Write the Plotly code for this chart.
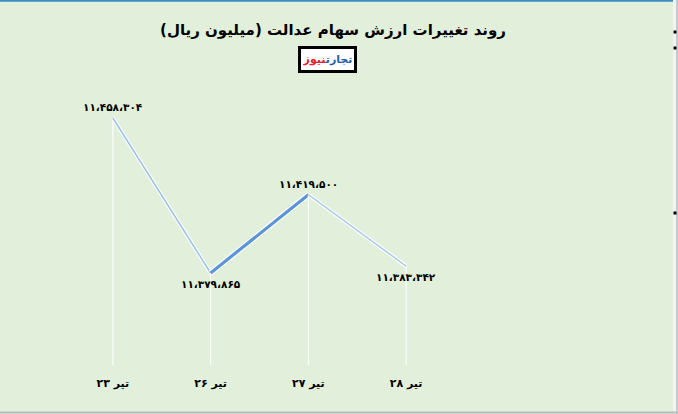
import plotly.graph_objects as go

categories = ["۲۳ تیر", "۲۶ تیر", "۲۷ تیر", "۲۸ تیر"]
values = [11458304, 11379865, 11419500, 11383342]
title_text = "روند تغییرات ارزش سهام عدالت (میلیون ریال)"

FA = str.maketrans("0123456789,", "۰۱۲۳۴۵۶۷۸۹،")
def fa(n):
    return f"{n:,}".translate(FA)

W, H = 678, 414
L, R, T, B = 64, 223, 100, 49
PW, PH = W - L - R, H - T - B
y_lo, y_hi = 11333300, 11467400

def px(x):
    return (x - L) / PW
def py(y):
    return (H - B - y) / PH

xs = list(range(len(categories)))
bg = "#E2EFDA"
fig = go.Figure()

# drop lines
for i, v in zip(xs, values):
    fig.add_trace(go.Scatter(x=[i, i], y=[v, y_lo], mode="lines",
                             line=dict(color="rgba(255,255,255,0.85)", width=1.2),
                             hoverinfo="skip", showlegend=False))

# line segments (3D-like look)
seg_styles = [("#9DC3E6", 1.6), ("#5B95D8", 3.2), ("#AECBEA", 1.6)]
for k, (c, w) in enumerate(seg_styles):
    xx = [xs[k], xs[k + 1]]
    yy = [values[k], values[k + 1]]
    fig.add_trace(go.Scatter(x=xx, y=yy, mode="lines",
                             line=dict(color="white", width=w + 2.2),
                             hoverinfo="skip", showlegend=False))
    fig.add_trace(go.Scatter(x=xx, y=yy, mode="lines",
                             line=dict(color=c, width=w),
                             hoverinfo="skip", showlegend=False))

annotations = []
shifts = [11, -11, 11, -11]
for i, v, s in zip(xs, values, shifts):
    annotations.append(dict(x=i, y=v, xref="x", yref="y", text=f"<b>{fa(v)}</b>",
                            showarrow=False, yshift=s, xanchor="center", yanchor="middle",
                            font=dict(family="DejaVu Sans", size=10.5, color="black")))

shapes = [
    dict(type="line", xref="paper", yref="paper", x0=px(0), x1=px(W), y0=py(0.8), y1=py(0.8),
         line=dict(color="#3C8DC6", width=2)),
    dict(type="rect", xref="paper", yref="paper", x0=px(673), x1=px(W), y0=py(0), y1=py(H),
         fillcolor="#F2F3F4", line=dict(width=0)),
    dict(type="line", xref="paper", yref="paper", x0=px(677), x1=px(677), y0=py(0), y1=py(H),
         line=dict(color="#B8BCC0", width=1.5)),
    dict(type="line", xref="paper", yref="paper", x0=px(0), x1=px(W), y0=py(412.5), y1=py(412.5),
         line=dict(color="#B8BCC0", width=2)),
]
for hy in [32, 48, 213]:
    shapes.append(dict(type="rect", xref="paper", yref="paper",
                       x0=px(673.5), x1=px(676.5), y0=py(hy - 1.5), y1=py(hy + 1.5),
                       fillcolor="black", line=dict(width=0)))

annotations.append(
    dict(text="<b>تجارت<span style='color:#E0262B'>نیوز</span></b>",
         xref="paper", yref="paper", x=px(327.5), y=py(59.5), showarrow=False,
         xanchor="center", yanchor="middle",
         font=dict(family="DejaVu Sans", size=11, color="#1F5FA8"),
         bgcolor="white", bordercolor="black", borderwidth=3, borderpad=2,
         width=49, height=17, align="center"))

fig.update_layout(
    width=W, height=H,
    margin=dict(l=L, r=R, t=T, b=B),
    paper_bgcolor=bg, plot_bgcolor=bg,
    title=dict(text=f"<b>{title_text}</b>", x=333 / W, xref="container", xanchor="center",
               y=1 - 30 / H, yref="container", yanchor="middle",
               font=dict(family="DejaVu Sans", size=15, color="black")),
    xaxis=dict(range=[-0.5, 3.5], tickmode="array", tickvals=xs,
               ticktext=[f"<b>{c}</b>" for c in categories],
               showgrid=False, zeroline=False, showline=False, ticks="",
               ticklabelstandoff=10,
               tickfont=dict(family="DejaVu Sans", size=11, color="black")),
    yaxis=dict(range=[y_lo, y_hi], visible=False, showgrid=False, zeroline=False),
    shapes=shapes, annotations=annotations,
    showlegend=False,
)

fig.write_html("out.html", config={"displayModeBar": False},
               post_script="document.body.style.margin='0';")
